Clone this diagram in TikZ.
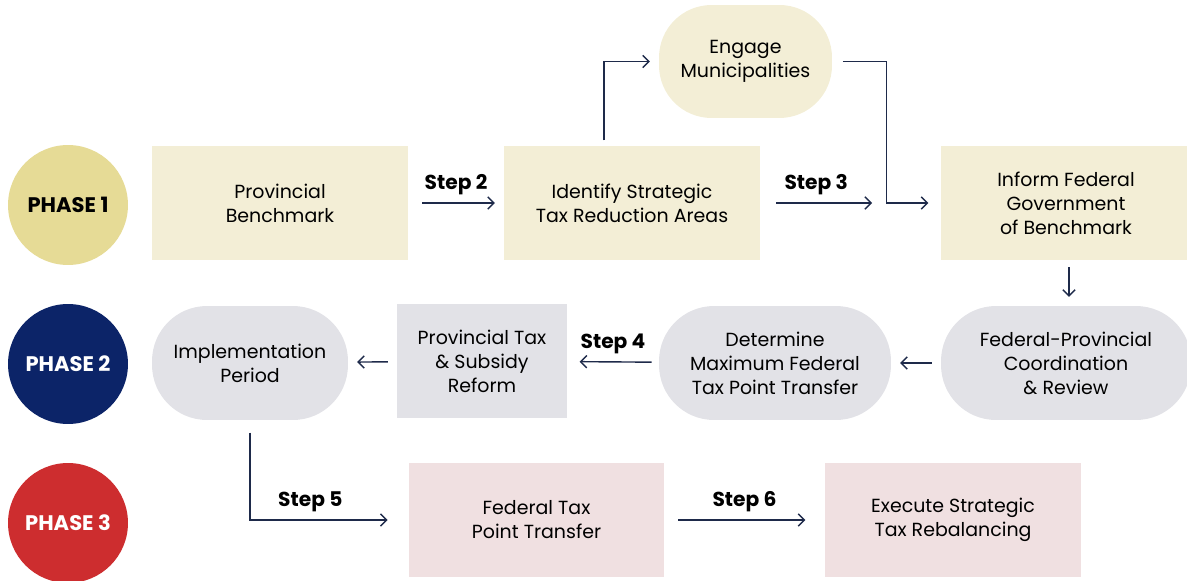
\documentclass[tikz,border=0pt]{standalone}
\usepackage{fontspec}
\setmainfont{Poppins}
\usetikzlibrary{positioning}
\usetikzlibrary{arrows.meta}
\definecolor{phaseyellow}{HTML}{E6DB96}
\definecolor{phasenavy}{HTML}{0C2468}
\definecolor{phasered}{HTML}{CD2D2F}
\definecolor{boxyellow}{HTML}{F3EED6}
\definecolor{boxgray}{HTML}{E2E2E7}
\definecolor{boxpink}{HTML}{F0E0E1}
\definecolor{linkblue}{HTML}{1E2A4A}
\tikzset{
    phasenode/.style = {circle, minimum size=2.4cm, inner sep=0, align=center, font=\bfseries\fontsize{12}{14}\selectfont},
    boxnode/.style = {rectangle, minimum width=5.12cm, minimum height=2.28cm, inner sep=0, align=center, font=\fontsize{10.8}{13.7}\selectfont, text=black},
    boxy/.style = {boxnode, fill=boxyellow},
    boxg/.style = {boxnode, fill=boxgray},
    boxp/.style = {boxnode, fill=boxpink},
    pill/.style = {rounded corners=1.1cm},
    link/.style = {-{Straight Barb[length=3.5pt,width=7pt]}, line width=0.8pt, draw=linkblue, shorten <=5pt, shorten >=5pt},
    steplabel/.style = {font=\bfseries\fontsize{11.5}{13}\selectfont, above=1pt, text=black}
}

\begin{document}
\begin{tikzpicture}[x=0.02cm, y=-0.02cm]
\useasboundingbox (0,0) rectangle (1187,581);

% phases
\node[phasenode, fill=phaseyellow, text=black] at (68, 205) (p1) {PHASE 1};
\node[phasenode, fill=phasenavy, text=white] at (68, 364) (p2) {PHASE 2};
\node[phasenode, fill=phasered, text=white] at (68, 523) (p3) {PHASE 3};

% row 1
\node[boxy] at ( 280, 203) (bench) {Provincial\\Benchmark};
\node[boxy] at ( 632, 203) (ident) {Identify Strategic\\Tax Reduction Areas};
\node[boxy, pill, rounded corners=1.05cm, minimum width=3.46cm, minimum height=2.26cm] at ( 745.5, 61.5) (engage) {Engage\\Municipalities};
\node[boxy, minimum width=5.0cm] at (1066, 203) (inform) {Inform Federal\\Government\\of Benchmark};
\coordinate (s3end) at (872, 203);

% row 2
\node[boxg, pill, minimum width=5.0cm] at (1066, 363) (fedprov) {Federal-Provincial\\Coordination\\\& Review};
\node[boxg, pill, minimum width=4.64cm] at ( 775, 363) (determine) {Determine\\Maximum Federal\\Tax Point Transfer};
\node[boxg, minimum width=3.4cm] at ( 482, 361) (provtax) {Provincial Tax\\\& Subsidy\\Reform};
\node[boxg, pill, minimum width=3.92cm] at ( 250, 363) (impl) {Implementation\\Period};

% row 3
\node[boxp, minimum width=5.1cm] at ( 536.5, 520) (fedtax) {Federal Tax\\Point Transfer};
\node[boxp] at ( 953, 520) (execute) {Execute Strategic\\Tax Rebalancing};

% connectors
\draw[link, shorten <=8pt] (bench) -- node[steplabel] {Step 2} (ident);
\draw[link, shorten <=9pt, shorten >=0pt] (ident.east) -- node[steplabel] {Step 3} (s3end);
\draw[link, shorten <=3pt] ([xshift=-0.56cm]ident.north) |- (engage.west);
\draw[link, shorten <=6pt, shorten >=7pt] (engage.east) -- ++(54,0) |- (inform.west);
\draw[link, shorten <=4pt, shorten >=5pt] ([xshift=0.06cm]inform.south) -- ([xshift=0.06cm]fedprov.north);
\draw[link] (fedprov) -- (determine);
\draw[link, shorten <=4pt, shorten >=7pt] (determine) -- node[steplabel] {Step 4} (provtax);
\draw[link] (provtax) -- (impl);
\draw[link, shorten <=7pt, shorten >=12pt] (impl.south) |- node[steplabel, pos=0.69] {Step 5} (fedtax.west);
\draw[link, shorten <=8pt, shorten >=11pt] (fedtax) -- node[steplabel] {Step 6} (execute);

\end{tikzpicture}
\end{document}
